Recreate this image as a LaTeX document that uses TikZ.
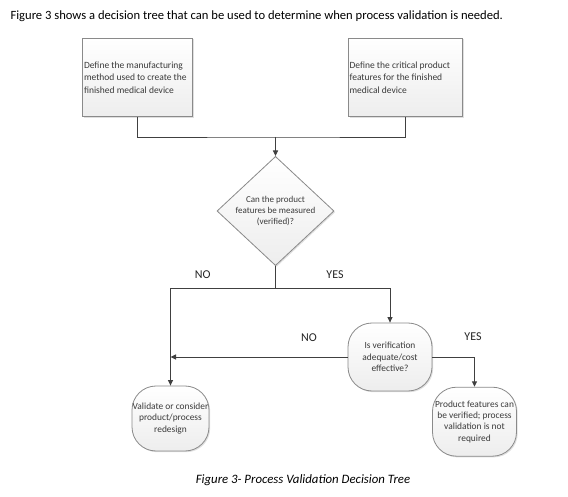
\documentclass[tikz,border=0pt]{standalone}
\usepackage{fontspec}
\setmainfont{Carlito}
\usetikzlibrary{arrows.meta,shapes.geometric,shadows}
\definecolor{txt}{HTML}{3A3A3A}
\definecolor{edge}{HTML}{8A8A8A}
\definecolor{conn}{HTML}{404040}
\begin{document}
\begin{tikzpicture}[x=1pt,y=-1pt,
  shade/.style={top color=white, bottom color=gray!14,
    drop shadow={shadow xshift=1.2pt, shadow yshift=-1.2pt, opacity=0.25, fill=gray}},
  rectbox/.style={shade, draw=edge, line width=0.8pt, inner sep=0pt},
  boxtext/.style={anchor=west, inner sep=0pt, align=left, text=txt,
    font=\fontsize{9.5}{12.5}\selectfont},
  roundbox/.style={shade, draw=edge, line width=0.8pt, rounded corners=24pt, inner sep=0pt,
    align=center, text=txt, font=\fontsize{9.4}{11.4}\selectfont},
  decision/.style={shade, diamond, draw=edge, line width=0.8pt, inner sep=0pt, align=center,
    text=txt, font=\fontsize{9}{11}\selectfont},
  conn/.style={draw=conn, line width=0.9pt},
  arr/.style={conn, -{Triangle[length=5.5pt,width=5pt]}},
  lbl/.style={font=\fontsize{12}{14}\selectfont, text=black!85},
]
\useasboundingbox (0,0) rectangle (568,497);
\fill[white] (0,0) rectangle (568,497);

\node[anchor=west, font=\fontsize{12.6}{14}\selectfont] (head) at (7,16)
  {Figure 3 shows a decision tree that can be used to determine when process validation is needed.};

\node[rectbox, minimum width=110pt, minimum height=78.4pt] (b1) at (137.7,77.5) {};
\node[boxtext] (b1t) at ([xshift=1.5pt]b1.west)
  {Define the manufacturing\\method used to create the\\finished medical device};
\node[rectbox, minimum width=114.4pt, minimum height=78.4pt] (b2) at (405.5,77.5) {};
\node[boxtext] (b2t) at ([xshift=1.5pt]b2.west)
  {Define the critical product\\features for the finished\\medical device};

\node[decision, minimum width=117pt, minimum height=103pt] (dia) at (275.5,211)
  {Can the product\\features be measured\\(verified)?};

\node[roundbox, minimum width=84pt, minimum height=68pt] (ver) at (390,357)
  {Is verification\\adequate/cost\\effective?};
\node[roundbox, minimum width=77pt, minimum height=65pt] (val) at (170.5,418.5)
  {Validate or consider\\product/process\\redesign};
\node[roundbox, minimum width=84pt, minimum height=69pt] (pf) at (474.5,421.7)
  {Product features can\\be verified; process\\validation is not\\required};

\coordinate (join) at (275.5,137);
\coordinate (split) at (275.5,288.3);

\draw[conn] (b1.south) |- (join) -| (b2.south);
\draw[arr] (join) -- (dia.north);
\draw[conn] (dia.south) -- (split);
\draw[arr] (split) -| (val.north);
\draw[arr] (split) -| (ver.north);
\draw[arr] (ver.west) -- (ver.west -| val.north);
\draw[arr] (ver.east) -| (pf.north);

\node[lbl] (no1) at (202.7,275) {NO};
\node[lbl] (yes1) at (335,275) {YES};
\node[lbl] (no2) at (309,338) {NO};
\node[lbl] (yes2) at (473,337) {YES};

\node[font=\fontsize{12.8}{15}\selectfont\itshape] (cap) at (303,480)
  {Figure 3- Process Validation Decision Tree};
\end{tikzpicture}
\end{document}
